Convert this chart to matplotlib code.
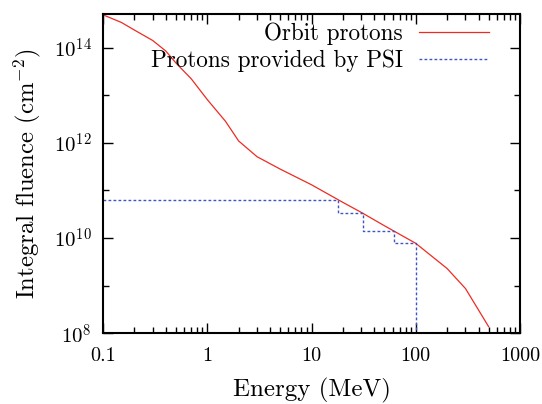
import matplotlib
matplotlib.use("Agg")
import matplotlib.pyplot as plt
from matplotlib.ticker import FixedLocator, NullFormatter, FixedFormatter
import numpy as np

plt.rcParams['font.family'] = ['cmr10', 'DejaVu Serif']
plt.rcParams['mathtext.fontset'] = 'cm'
plt.rcParams['axes.unicode_minus'] = False
plt.rcParams['axes.formatter.use_mathtext'] = True

# Orbit protons integral fluence
orbit_energy = [0.1, 0.15, 0.2, 0.3, 0.4, 0.5, 0.6, 0.7, 1, 1.5, 2, 3, 5, 10, 20, 30, 50, 100, 150, 200, 300, 500]
orbit_log_fluence = [14.69, 14.53, 14.37, 14.15, 13.93, 13.68, 13.50, 13.35, 12.91, 12.45, 12.04, 11.71, 11.45,
                     11.12, 10.75, 10.54, 10.26, 9.89, 9.58, 9.36, 8.94, 8.14]
orbit_fluence = [10 ** v for v in orbit_log_fluence]

# PSI provided protons (step levels)
psi_energy = [0.1, 18, 31, 62, 100]
psi_fluence = [6.3e10, 3.3e10, 1.4e10, 7.8e9, 1e8]

xticks = [0.1, 1, 10, 100, 1000]
xticklabels = ["0.1", "1", "10", "100", "1000"]
yticks = [1e8, 1e10, 1e12, 1e14]
yticklabels = [r"$10^{8}$", r"$10^{10}$", r"$10^{12}$", r"$10^{14}$"]
yminor = [1e9, 1e11, 1e13]

fig = plt.figure(figsize=(5.42, 4.04), dpi=100)
ax = fig.add_axes([103 / 542, 1 - 333.3 / 404, (520 - 103) / 542, (333.3 - 14) / 404])

ax.plot(orbit_energy, orbit_fluence, color='#ee2b22', lw=0.9, label='Orbit protons')
ax.plot(psi_energy, psi_fluence, color='#3a55c4', lw=1.0, linestyle=(0, (2, 1.6)),
        drawstyle='steps-post', label='Protons provided by PSI')

ax.set_xscale('log')
ax.set_yscale('log')
ax.set_xlim(0.1, 1000)
ax.set_ylim(1e8, 10 ** 14.707)

ax.xaxis.set_major_locator(FixedLocator(xticks))
ax.xaxis.set_major_formatter(FixedFormatter(xticklabels))
xminor = [m * 10.0 ** d for d in range(-1, 3) for m in range(2, 10)]
ax.xaxis.set_minor_locator(FixedLocator(xminor))
ax.xaxis.set_minor_formatter(NullFormatter())
ax.yaxis.set_major_locator(FixedLocator(yticks))
ax.yaxis.set_major_formatter(FixedFormatter(yticklabels))
ax.yaxis.set_minor_locator(FixedLocator(yminor))
ax.yaxis.set_minor_formatter(NullFormatter())

ax.tick_params(which='both', direction='in', top=True, right=True, width=1.0)
ax.tick_params(which='major', length=7)
ax.tick_params(which='minor', length=4)
ax.tick_params(axis='x', which='major', labelsize=14.5, pad=10)
ax.tick_params(axis='y', which='major', labelsize=15, pad=8)
for s in ax.spines.values():
    s.set_linewidth(1.5)

ax.set_xlabel('Energy (MeV)', fontsize=18, labelpad=9)
ax.set_ylabel(r'Integral fluence (cm$^{-2}$)', fontsize=17.8, labelpad=8)

ax.legend(loc='upper right', bbox_to_anchor=(489 / 542, 1 - 22.5 / 404), bbox_transform=fig.transFigure,
          frameon=False, markerfirst=False, fontsize=16.7, handlelength=3.02, handletextpad=0.69,
          borderpad=0, borderaxespad=0, labelspacing=0.2)

fig.savefig('out.png', dpi=100)
